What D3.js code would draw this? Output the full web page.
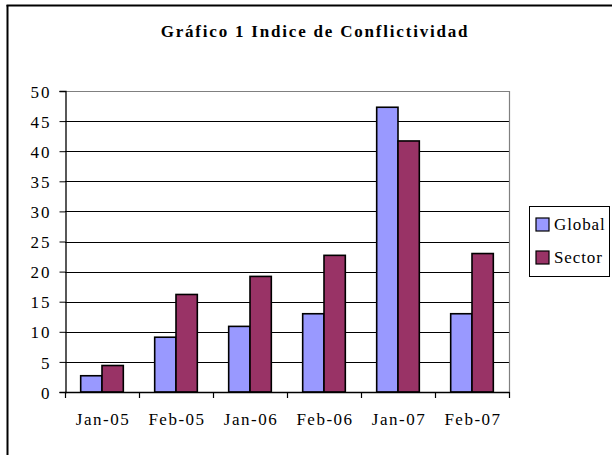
<!DOCTYPE html>
<html>
<head>
<meta charset="utf-8">
<script src="https://cdn.jsdelivr.net/npm/d3@7"></script>
<style>
  html, body { margin: 0; padding: 0; background: #fff; }
  svg { display: block; }
  text { font-family: "Liberation Serif", "Times New Roman", serif; fill: #000; }
</style>
</head>
<body>
<svg id="chart" width="612" height="455"></svg>
<script>
const categories = ["Jan-05", "Feb-05", "Jan-06", "Feb-06", "Jan-07", "Feb-07"];
const seriesNames = ["Global", "Sector"];
const globalValues = [2.7, 9.1, 10.9, 13.0, 47.3, 13.0];
const sectorValues = [4.4, 16.2, 19.2, 22.7, 41.7, 23.0];
const yTicks = [0, 5, 10, 15, 20, 25, 30, 35, 40, 45, 50];
const colors = ["#9999FF", "#993366"];
const titleText = "Gráfico 1 Indice de Conflictividad";

const svg = d3.select("#chart");
const plot = { left: 65, right: 509, top: 91, bottom: 392 };

// outer frame (left and top edges visible)
svg.append("line").attr("x1", 7.5).attr("x2", 7.5).attr("y1", 5).attr("y2", 455)
  .attr("stroke", "#000").attr("stroke-width", 2);
svg.append("line").attr("x1", 6.5).attr("x2", 612).attr("y1", 5.5).attr("y2", 5.5)
  .attr("stroke", "#000").attr("stroke-width", 2);

// title
svg.append("text").attr("x", 315).attr("y", 37).attr("text-anchor", "middle")
  .attr("font-size", 17).attr("font-weight", "bold").attr("letter-spacing", 1.8)
  .text(titleText);

const y = d3.scaleLinear().domain([0, 50]).range([plot.bottom, plot.top]);
const x0 = d3.scaleBand().domain(categories).range([plot.left, plot.right])
  .paddingInner(0.424).paddingOuter(0.212);
const x1 = d3.scaleBand().domain(seriesNames).range([0, x0.bandwidth()]);

// gridlines
svg.append("g").selectAll("line").data(yTicks.filter(t => t > 0 && t < 50)).join("line")
  .attr("x1", plot.left).attr("x2", plot.right)
  .attr("y1", d => Math.round(y(d)) + 0.5).attr("y2", d => Math.round(y(d)) + 0.5)
  .attr("stroke", "#000").attr("stroke-width", 1);

// plot area border top/right (gray)
svg.append("path")
  .attr("d", `M${plot.left},${Math.round(y(50)) + 0.5}H${plot.right + 0.5}V${plot.bottom}`)
  .attr("fill", "none").attr("stroke", "#808080").attr("stroke-width", 1.2);

// bars
const data = categories.map((c, i) => ({ cat: c, vals: [globalValues[i], sectorValues[i]] }));
const groups = svg.append("g").selectAll("g").data(data).join("g")
  .attr("transform", d => `translate(${x0(d.cat)},0)`);
groups.selectAll("rect").data(d => d.vals.map((v, j) => ({ name: seriesNames[j], v, j }))).join("rect")
  .attr("x", d => x1(d.name))
  .attr("width", x1.bandwidth())
  .attr("y", d => y(d.v))
  .attr("height", d => y(0) - y(d.v))
  .attr("fill", d => colors[d.j])
  .attr("stroke", "#000").attr("stroke-width", 1.6);

// y axis
const yAxis = d3.axisLeft(y).tickValues(yTicks).tickSize(6).tickPadding(8).tickFormat(d3.format("d"));
const gy = svg.append("g").attr("transform", `translate(${plot.left + 0.5},0)`).call(yAxis);
gy.select(".domain").attr("stroke", "#000").attr("stroke-width", 1.3);
gy.selectAll(".tick line").attr("stroke", "#000");
gy.selectAll("text").attr("font-size", 17).attr("font-family", "Liberation Serif, serif")
  .attr("letter-spacing", 2).attr("dy", "0.36em");

// x axis with ticks at category boundaries
const step = x0.step();
const boundaries = d3.range(categories.length + 1).map(i => plot.left + i * step);
svg.append("line").attr("x1", plot.left).attr("x2", plot.right + 0.5)
  .attr("y1", plot.bottom + 0.5).attr("y2", plot.bottom + 0.5)
  .attr("stroke", "#000").attr("stroke-width", 1.3);
svg.append("g").selectAll("line").data(boundaries).join("line")
  .attr("x1", d => Math.round(d) + 0.5).attr("x2", d => Math.round(d) + 0.5)
  .attr("y1", plot.bottom).attr("y2", plot.bottom + 6)
  .attr("stroke", "#000").attr("stroke-width", 1.2);
svg.append("g").selectAll("text").data(categories).join("text")
  .attr("x", d => x0(d) + x0.bandwidth() / 2 + 1)
  .attr("y", 425)
  .attr("text-anchor", "middle")
  .attr("font-size", 17).attr("letter-spacing", 1.5)
  .text(d => d);

// legend
const lg = svg.append("g");
lg.append("rect").attr("x", 529.5).attr("y", 206.5).attr("width", 80).attr("height", 70)
  .attr("fill", "#fff").attr("stroke", "#000").attr("stroke-width", 1);
seriesNames.forEach((name, i) => {
  const yy = 218 + i * 33;
  lg.append("rect").attr("x", 536).attr("y", yy).attr("width", 13).attr("height", 13)
    .attr("fill", colors[i]).attr("stroke", "#000").attr("stroke-width", 1.2);
  lg.append("text").attr("x", 554).attr("y", yy + 12).attr("font-size", 17)
    .attr("letter-spacing", 0.9).text(name);
});
</script>
</body>
</html>
